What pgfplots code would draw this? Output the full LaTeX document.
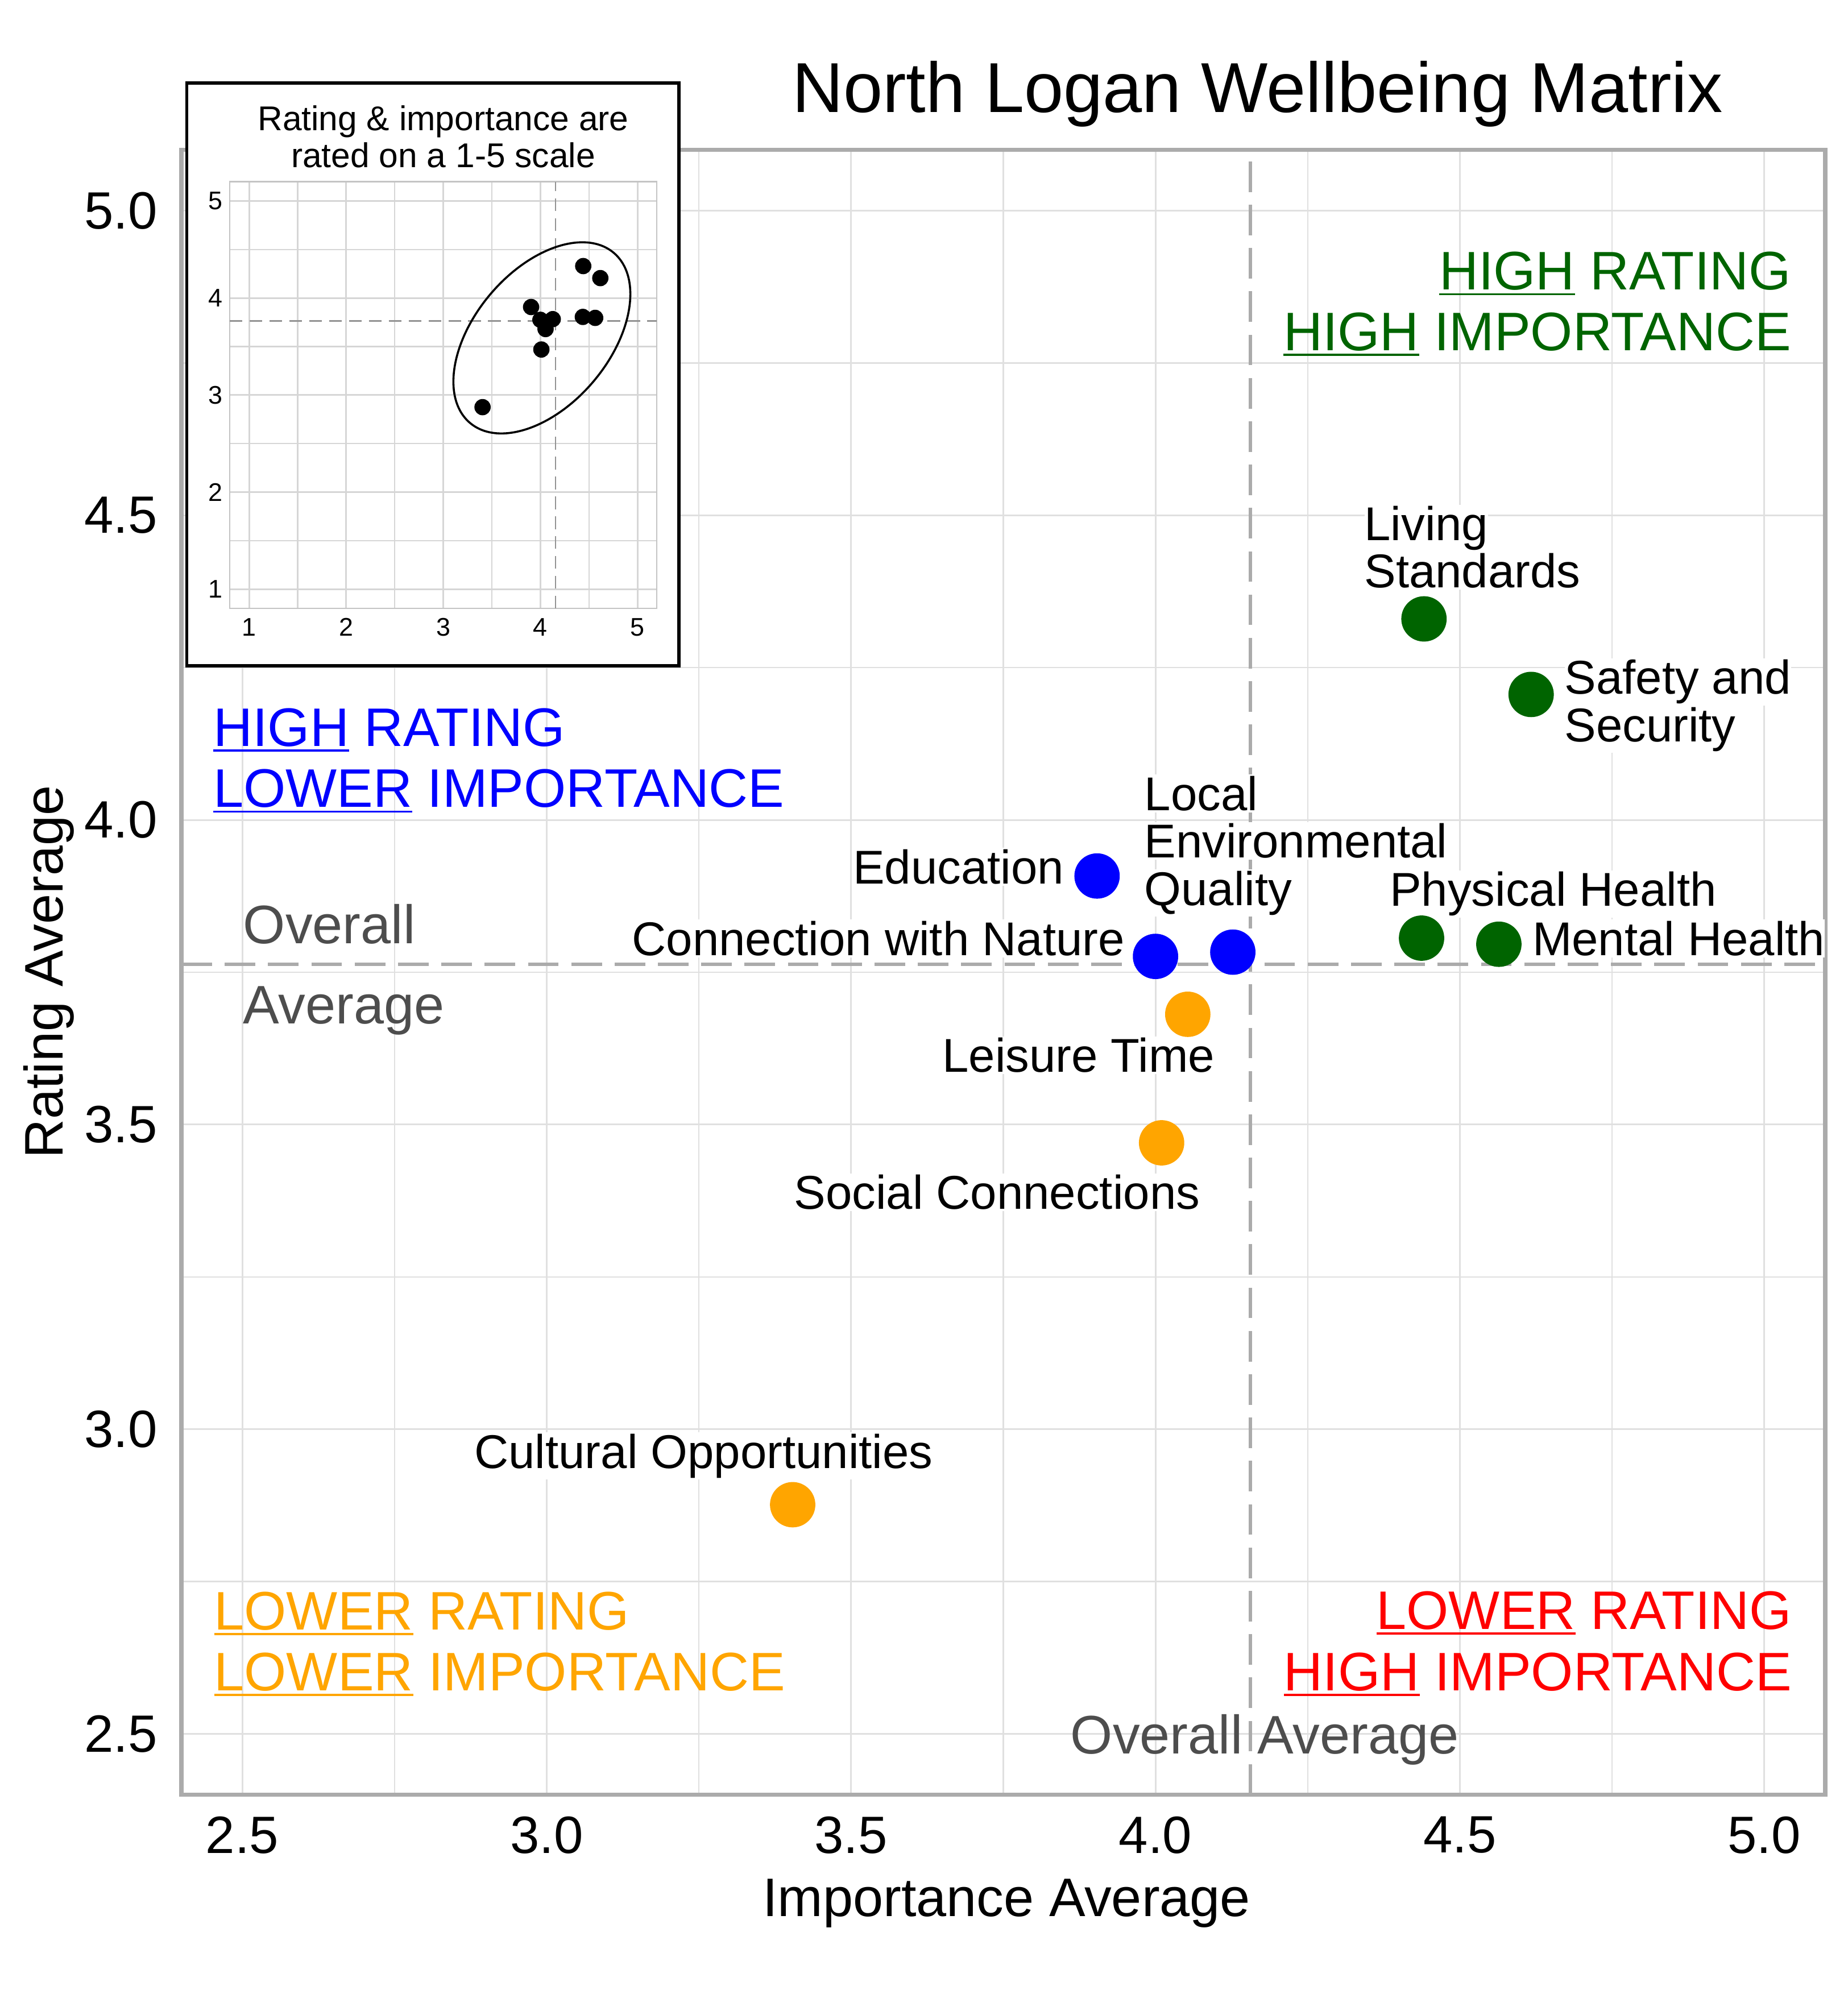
\documentclass[border=0pt]{standalone}
\usepackage{fontspec}
\setmainfont{Liberation Sans}
\usepackage{pgfplots}
\usepackage{pgfplotstable}
\pgfplotsset{compat=1.18}
\definecolor{qgreen}{HTML}{006400}
\definecolor{qblue}{HTML}{0000FF}
\definecolor{qorange}{HTML}{FFA500}
\definecolor{qred}{HTML}{FF0000}
\definecolor{txtgray}{HTML}{4D4D4D}
\definecolor{framegray}{HTML}{ABABAB}
\definecolor{gridgray}{HTML}{E0E0E0}
\definecolor{insetgrid}{HTML}{D6D6D6}
\definecolor{insetframe}{HTML}{C4C4C4}
\definecolor{dashgray}{HTML}{ABABAB}
\newcommand{\ul}[1]{\setbox0\hbox{#1}\rlap{\rule[-2.1pt]{\wd0}{0.8pt}}\box0\relax}
\newcommand{\fs}[1]{\fontsize{#1}{#1}\selectfont}

% importance (x), rating (y)
\pgfplotstableread{
x y
4.441 4.330
4.617 4.206
4.437 3.806
4.564 3.796
}\greendata
\pgfplotstableread{
x y
3.904 3.908
4.000 3.776
4.127 3.783
}\bluedata
\pgfplotstableread{
x y
4.053 3.681
4.010 3.470
3.404 2.876
}\orangedata

\begin{document}
\begin{tikzpicture}[x=1pt,y=1pt]
\useasboundingbox (0,0) rectangle (725,781);
\tikzset{lab/.style={font=\fs{18.6}, fill=white, inner xsep=0pt, inner ysep=0.6pt, text=black},
         quad/.style={font=\fs{21.3}, inner sep=0pt}}
\begin{axis}[
  at={(71.2pt,76.65pt)}, anchor=south west,
  width=645.05pt, height=645.55pt, scale only axis,
  xmin=2.4, xmax=5.1, ymin=2.4, ymax=5.1,
  xtick={2.5,3,3.5,4,4.5,5}, ytick={2.5,3,3.5,4,4.5,5},
  xticklabels={2.5,3.0,3.5,4.0,4.5,5.0},
  yticklabels={2.5,3.0,3.5,4.0,4.5,5.0},
  minor tick num=1,
  grid=both,
  major grid style={gridgray, line width=0.7pt},
  minor grid style={gridgray, line width=0.5pt},
  major tick length=0pt, minor tick length=0pt,
  axis line style={framegray, line width=1.7pt},
  tick label style={font=\fs{20.6}},
  xticklabel style={anchor=north, inner sep=0pt},
  yticklabel style={anchor=east, inner sep=0pt},
  xticklabel shift=8.5pt, yticklabel shift=9.3pt,
  clip=false,
]
% overall averages
\addplot[dashgray, line width=1.4pt, dash pattern=on 12pt off 5pt] coordinates {(4.1557,2.4) (4.1557,5.1)};
\addplot[dashgray, line width=1.4pt, dash pattern=on 12pt off 5pt] coordinates {(2.4,3.7632) (5.1,3.7632)};

% quadrant labels
\node[quad, anchor=base east, text=qgreen] at (axis cs:5.0448,4.8702) {\ul{HIGH} RATING};
\node[quad, anchor=base east, text=qgreen] at (axis cs:5.0448,4.7707) {\ul{HIGH} IMPORTANCE};
\node[quad, anchor=base west, text=qblue] at (axis cs:2.4517,4.1210) {\ul{HIGH} RATING};
\node[quad, anchor=base west, text=qblue] at (axis cs:2.4517,4.0209) {\ul{LOWER} IMPORTANCE};
\node[quad, anchor=base west, text=qorange] at (axis cs:2.4529,2.6709) {\ul{LOWER} RATING};
\node[quad, anchor=base west, text=qorange] at (axis cs:2.4529,2.5709) {\ul{LOWER} IMPORTANCE};
\node[quad, anchor=base east, text=qred] at (axis cs:5.0456,2.6716) {\ul{LOWER} RATING};
\node[quad, anchor=base east, text=qred] at (axis cs:5.0456,2.5709) {\ul{HIGH} IMPORTANCE};
\node[quad, anchor=base west, text=txtgray] at (axis cs:3.8598,2.4670) {Overall Average};
\node[quad, anchor=base west, text=txtgray] at (axis cs:2.5008,3.7970) {Overall};
\node[quad, anchor=base west, text=txtgray] at (axis cs:2.5008,3.6658) {Average};

% point labels (lower lines first)
\node[lab, anchor=base west] at (axis cs:4.3423,4.3809) {Standards};
\node[lab, anchor=base west] at (axis cs:4.3423,4.4586) {Living};
\node[lab, anchor=base west] at (axis cs:4.6711,4.1288) {Security};
\node[lab, anchor=base west] at (axis cs:4.6711,4.2065) {Safety and};
\node[lab, anchor=base east] at (axis cs:3.8502,3.8955) {Education};
\node[lab, anchor=base east] at (axis cs:3.9502,3.7778) {Connection with Nature};
\node[lab, anchor=base west] at (axis cs:3.9810,3.8599) {Quality};
\node[lab, anchor=base west] at (axis cs:3.9810,3.9377) {Environmental};
\node[lab, anchor=base west] at (axis cs:3.9810,4.0155) {Local};
\node[lab, anchor=base west] at (axis cs:4.3841,3.8585) {Physical Health};
\node[lab, anchor=base west] at (axis cs:4.6184,3.7776) {Mental Health};
\node[lab, anchor=base east] at (axis cs:4.0979,3.5859) {Leisure Time};
\node[lab, anchor=base east] at (axis cs:4.0738,3.3610) {Social Connections};
\node[lab, anchor=base west] at (axis cs:2.8805,2.9358) {Cultural Opportunities};

% points
\addplot[only marks, mark=*, mark size=8.7pt, mark options={fill=qgreen, draw=qgreen}] table[x=x,y=y] {\greendata};
\addplot[only marks, mark=*, mark size=8.7pt, mark options={fill=qblue, draw=qblue}] table[x=x,y=y] {\bluedata};
\addplot[only marks, mark=*, mark size=8.7pt, mark options={fill=qorange, draw=qorange}] table[x=x,y=y] {\orangedata};
\end{axis}

% titles
\node[anchor=base, font=\fs{27.75}] at (493.5,737) {North Logan Wellbeing Matrix};
\node[anchor=base, font=\fs{21.3}] at (395,28.8) {Importance Average};
\node[anchor=base, rotate=90, font=\fs{21.3}] at (24.75,399.55) {Rating Average};

% inset
\filldraw[fill=white, draw=black, line width=1.3pt] (73.3,519.6) rectangle (266.4,748.5);
\node[anchor=base, font=\fs{13.5}] at (173.95,729.7) {Rating \& importance are};
\node[anchor=base, font=\fs{13.5}] at (173.95,715.35) {rated on a 1-5 scale};
\begin{axis}[
  at={(90.15pt,542.15pt)}, anchor=south west,
  width=167.65pt, height=167.55pt, scale only axis,
  xmin=0.8, xmax=5.2, ymin=0.8, ymax=5.2,
  xtick={1,2,3,4,5}, ytick={1,2,3,4,5},
  xticklabels={1,2,3,4,5}, yticklabels={1,2,3,4,5},
  minor tick num=1,
  grid=both,
  major grid style={insetgrid, line width=0.7pt},
  minor grid style={insetgrid, line width=0.5pt},
  major tick length=0pt, minor tick length=0pt,
  axis line style={insetframe, line width=0.5pt},
  tick label style={font=\fs{10}},
  xticklabel style={anchor=north, inner sep=0pt},
  yticklabel style={anchor=east, inner sep=0pt},
  xticklabel shift=3.6pt, yticklabel shift=2.55pt,
  clip=false,
]
\addplot[gray!85, line width=0.6pt, dash pattern=on 5pt off 2.8pt] coordinates {(4.1557,0.8) (4.1557,5.2)};
\addplot[gray!85, line width=0.6pt, dash pattern=on 5pt off 2.8pt] coordinates {(0.8,3.7632) (5.2,3.7632)};
\addplot[only marks, mark=*, mark size=3pt, mark options={fill=black, draw=black}] table[x=x,y=y] {\greendata};
\addplot[only marks, mark=*, mark size=3pt, mark options={fill=black, draw=black}] table[x=x,y=y] {\bluedata};
\addplot[only marks, mark=*, mark size=3pt, mark options={fill=black, draw=black}] table[x=x,y=y] {\orangedata};
\draw[black, line width=0.8pt, rotate around={49.8:(axis cs:4.015,3.59)}] (axis cs:4.015,3.59) ellipse [x radius=43.7pt, y radius=26.5pt];
\end{axis}
\end{tikzpicture}
\end{document}
